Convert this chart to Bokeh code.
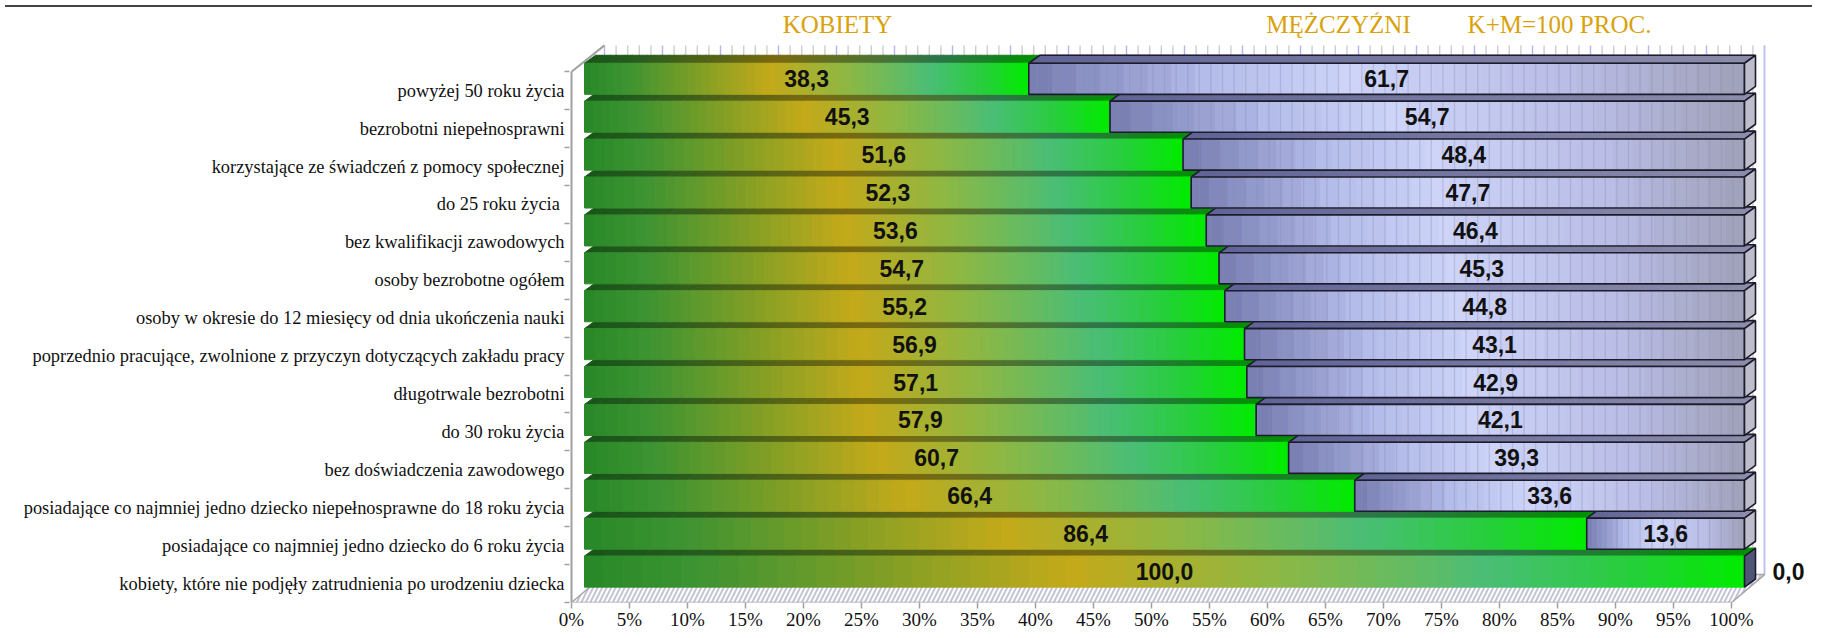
import numpy as np
from bokeh.plotting import figure
from bokeh.models import Range1d, FixedTicker, PrintfTickFormatter, Div
from bokeh.layouts import column
from bokeh.core.properties import value
from bokeh.embed import file_html
from bokeh.resources import INLINE

# ---------------- data ----------------
categories = [
    "powyżej 50 roku życia",
    "bezrobotni niepełnosprawni",
    "korzystające ze świadczeń z pomocy społecznej",
    "do 25 roku  życia",
    "bez kwalifikacji zawodowych",
    "osoby bezrobotne ogółem",
    "osoby w okresie do 12 miesięcy od dnia ukończenia nauki",
    "poprzednio pracujące, zwolnione z przyczyn dotyczących zakładu pracy",
    "długotrwale bezrobotni",
    "do 30 roku życia",
    "bez doświadczenia zawodowego",
    "posiadające co najmniej jedno dziecko niepełnosprawne do 18 roku życia",
    "posiadające co najmniej jedno dziecko do 6 roku życia",
    "kobiety, które nie podjęły zatrudnienia po urodzeniu dziecka",
]
kobiety = [38.3, 45.3, 51.6, 52.3, 53.6, 54.7, 55.2, 56.9, 57.1, 57.9, 60.7, 66.4, 86.4, 100.0]
mezczyzni = [61.7, 54.7, 48.4, 47.7, 46.4, 45.3, 44.8, 43.1, 42.9, 42.1, 39.3, 33.6, 13.6, 0.0]
x_ticks = list(range(0, 101, 5))
series_titles = ["KOBIETY", "MĘŻCZYŹNI", "K+M=100 PROC."]

# ---------------- layout constants ----------------
W, H = 1807, 620
LEFT, BOTTOM = 569, 28
FRAME_W, FRAME_H = W - LEFT, H - BOTTOM
SX = 11.6                        # px per percent
n = len(categories)
SY = (FRAME_H - 59.5) / n        # px per row
x_start = -2 / SX
x_end = x_start + FRAME_W / SX
y_start = -0.5
y_end = y_start + FRAME_H / SY

BX, BY = 13 / SX, 12 / SY        # bar plane offset
DX, DY = 11 / SX, 8 / SY         # bar depth
WX, WY = 33 / SX, 28 / SY        # wall depth
HH = 0.41                        # half bar height (rows)
Y_TOP = y_end - 33 / SY          # top of back wall

def grad(stops, t):
    pos = [s[0] for s in stops]
    cols = np.array([s[1] for s in stops], dtype=float)
    r = np.interp(t, pos, cols[:, 0]); g = np.interp(t, pos, cols[:, 1]); b = np.interp(t, pos, cols[:, 2])
    return ["#%02x%02x%02x" % (int(a), int(bb), int(c)) for a, bb, c in zip(r, g, b)]

GREEN = [(0.0, (40, 136, 40)), (0.1, (62, 148, 50)), (0.42, (196, 170, 26)), (0.6, (140, 184, 70)),
         (0.78, (74, 190, 118)), (0.9, (40, 206, 60)), (1.0, (0, 236, 0))]
GREEN_TOP = [(p_, tuple(c * 0.62 for c in col)) for p_, col in GREEN]
BLUE = [(0.0, (118, 124, 176)), (0.25, (180, 188, 234)), (0.45, (206, 212, 248)),
        (0.75, (186, 190, 230)), (1.0, (160, 160, 186))]
BLUE_TOP = [(0.0, (96, 100, 150)), (1.0, (140, 140, 172))]
OUTLINE = "#1c1c2c"

p = figure(width=W, height=H, x_range=Range1d(x_start, x_end), y_range=Range1d(y_start, y_end),
           output_backend="svg", toolbar_location=None,
           min_border_left=LEFT, min_border_right=0, min_border_top=0, min_border_bottom=BOTTOM)
p.xgrid.visible = False
p.ygrid.visible = False
p.outline_line_color = None
p.background_fill_color = "white"
p.border_fill_color = "white"

# bottom axis
xa = p.xaxis[0]
xa.ticker = FixedTicker(ticks=x_ticks, minor_ticks=[])
xa.formatter = PrintfTickFormatter(format="%d%%")
xa.axis_line_color = None
xa.major_tick_line_color = "#a0a0a0"
xa.major_tick_line_width = 1.5
xa.major_tick_out = 6
xa.major_tick_in = 0
xa.major_label_standoff = 0
xa.major_label_text_font = "Liberation Serif"
xa.major_label_text_font_size = "19px"
xa.major_label_text_color = "#111111"

# left axis
ya = p.yaxis[0]
ya.ticker = FixedTicker(ticks=list(range(n)), minor_ticks=[k - 0.5 for k in range(n + 1)])
ya.major_label_overrides = {n - 1 - i: c for i, c in enumerate(categories)}
ya.axis_line_color = None
ya.major_tick_line_color = None
ya.major_tick_out = 0
ya.major_tick_in = 0
ya.minor_tick_line_color = "#a0a0a0"
ya.minor_tick_line_width = 1.5
ya.minor_tick_out = 5
ya.minor_tick_in = 0
ya.major_label_standoff = 0
ya.major_label_text_font = "Liberation Serif"
ya.major_label_text_font_size = "18.4px"
ya.major_label_text_color = "#111111"

# back wall gridlines
gx = np.arange(0, 101, 1)
gcol = ["#b4b4f0" if k % 5 == 0 else "#cdcdcd" for k in gx]
p.segment(x0=gx + WX, y0=[y_start + WY] * len(gx), x1=gx + WX, y1=[Y_TOP] * len(gx),
          line_color=gcol, line_width=1.4)

# walls
p.segment(x0=[0], y0=[y_start], x1=[0], y1=[n - 0.5], line_color="#a0a0a0", line_width=2)
p.segment(x0=[0], y0=[n - 0.5], x1=[WX], y1=[Y_TOP], line_color="#a0a0a0", line_width=2)
p.segment(x0=[100 + WX, 100 + WX], y0=[Y_TOP, y_start + WY], x1=[100 + WX, 100], y1=[y_start + WY, y_start],
          line_color="#bebef0", line_width=1.6)

# floor
p.patch(x=[0, 100, 100 + WX, WX], y=[y_start, y_start, y_start + WY, y_start + WY],
        fill_color="white", hatch_pattern="/", hatch_color="#c4c4d6", hatch_scale=9, hatch_weight=2,
        line_color="#a8a8a8", line_width=1.5)

NG, NB = 60, 30
gf = dict(l=[], r=[], b=[], t=[], c=[])
gt = dict(xs=[], ys=[], c=[])
bf = dict(l=[], r=[], b=[], t=[], c=[])
bt = dict(xs=[], ys=[], c=[])
outline_rect = dict(l=[], r=[], b=[], t=[])
outline_top = dict(xs=[], ys=[])
side = dict(xs=[], ys=[], c=[])
stripes = dict(x=[], y0=[], y1=[])
lab = dict(x=[], y=[], t=[])
lab0 = dict(x=[], y=[], t=[])

for i in range(n):
    f, m = kobiety[i], mezczyzni[i]
    yc = (n - 1 - i) + BY
    bot, top = yc - HH, yc + HH
    # green (women)
    e = np.linspace(0, f, NG + 1) + BX
    tt = (np.arange(NG) + 0.5) / NG
    cf = grad(GREEN, tt)
    ct = grad(GREEN_TOP, tt)
    for j in range(NG):
        gf["l"].append(e[j]); gf["r"].append(e[j + 1]); gf["b"].append(bot); gf["t"].append(top); gf["c"].append(cf[j])
        gt["xs"].append([e[j], e[j + 1], e[j + 1] + DX, e[j] + DX]); gt["ys"].append([top, top, top + DY, top + DY]); gt["c"].append(ct[j])
    # blue (men)
    end = BX + f + m
    if m > 0:
        e = np.linspace(f, f + m, NB + 1) + BX
        tt = (np.arange(NB) + 0.5) / NB
        cf = grad(BLUE, tt)
        ct = grad(BLUE_TOP, tt)
        for j in range(NB):
            bf["l"].append(e[j]); bf["r"].append(e[j + 1]); bf["b"].append(bot); bf["t"].append(top); bf["c"].append(cf[j])
            bt["xs"].append([e[j], e[j + 1], e[j + 1] + DX, e[j] + DX]); bt["ys"].append([top, top, top + DY, top + DY]); bt["c"].append(ct[j])
        outline_rect["l"].append(BX + f); outline_rect["r"].append(end); outline_rect["b"].append(bot); outline_rect["t"].append(top)
        outline_top["xs"].append([BX + f, end, end + DX, BX + f + DX]); outline_top["ys"].append([top, top, top + DY, top + DY])
        for k in range(int(np.ceil(f)), int(f + m)):
            stripes["x"].append(k + BX); stripes["y0"].append(bot); stripes["y1"].append(top)
        side["c"].append("#bdbdcb")
    else:
        side["c"].append("#4f5577")
    side["xs"].append([end, end + DX, end + DX, end]); side["ys"].append([bot, bot + DY, top + DY, top])
    # labels
    lab["x"].append(BX + f / 2); lab["y"].append(yc); lab["t"].append(f"{f:.1f}".replace(".", ","))
    if m > 0:
        lab["x"].append(BX + f + m / 2); lab["y"].append(yc); lab["t"].append(f"{m:.1f}".replace(".", ","))
    else:
        lab0["x"].append(end); lab0["y"].append(yc); lab0["t"].append(f"{m:.1f}".replace(".", ","))

p.patches(xs=gt["xs"], ys=gt["ys"], fill_color=gt["c"], line_color=gt["c"], line_width=1)
p.patches(xs=bt["xs"], ys=bt["ys"], fill_color=bt["c"], line_color=bt["c"], line_width=1)
p.patches(xs=outline_top["xs"], ys=outline_top["ys"], fill_color=None, line_color=OUTLINE, line_width=1.6)
p.quad(left=gf["l"], right=gf["r"], bottom=gf["b"], top=gf["t"], fill_color=gf["c"], line_color=gf["c"], line_width=1)
p.quad(left=bf["l"], right=bf["r"], bottom=bf["b"], top=bf["t"], fill_color=bf["c"], line_color=bf["c"], line_width=1)
p.segment(x0=stripes["x"], y0=stripes["y0"], x1=stripes["x"], y1=stripes["y1"],
          line_color="#8c8cac", line_alpha=0.35, line_width=1.3)
p.quad(left=outline_rect["l"], right=outline_rect["r"], bottom=outline_rect["b"], top=outline_rect["t"],
       fill_color=None, line_color=OUTLINE, line_width=1.6)
p.patches(xs=side["xs"], ys=side["ys"], fill_color=side["c"], line_color=OUTLINE, line_width=1.6)

p.text(x=lab["x"], y=lab["y"], text=lab["t"], text_align="center", text_baseline="middle",
       text_font=value("Liberation Sans"), text_font_style="bold", text_font_size="23px", text_color="#111111")
p.text(x=lab0["x"], y=lab0["y"], text=lab0["t"], text_align="center", text_baseline="middle", x_offset=44,
       text_font=value("Liberation Sans"), text_font_style="bold", text_font_size="23px", text_color="#111111")

# series titles
title_x = [(845 - 579) / SX, (1346 - 579) / SX, (1567 - 579) / SX]
p.text(x=title_x, y=[y_end - 12 / SY] * 3, text=series_titles, text_align="center", text_baseline="middle",
       text_font=value("Liberation Serif"), text_font_size="25px", text_color="#d9a20c")

top_line = Div(text="", width=W, height=2, styles={"background-color": "#454545"})
layout = column(top_line, p, spacing=0)
open("out.html", "w").write(file_html(layout, INLINE))
